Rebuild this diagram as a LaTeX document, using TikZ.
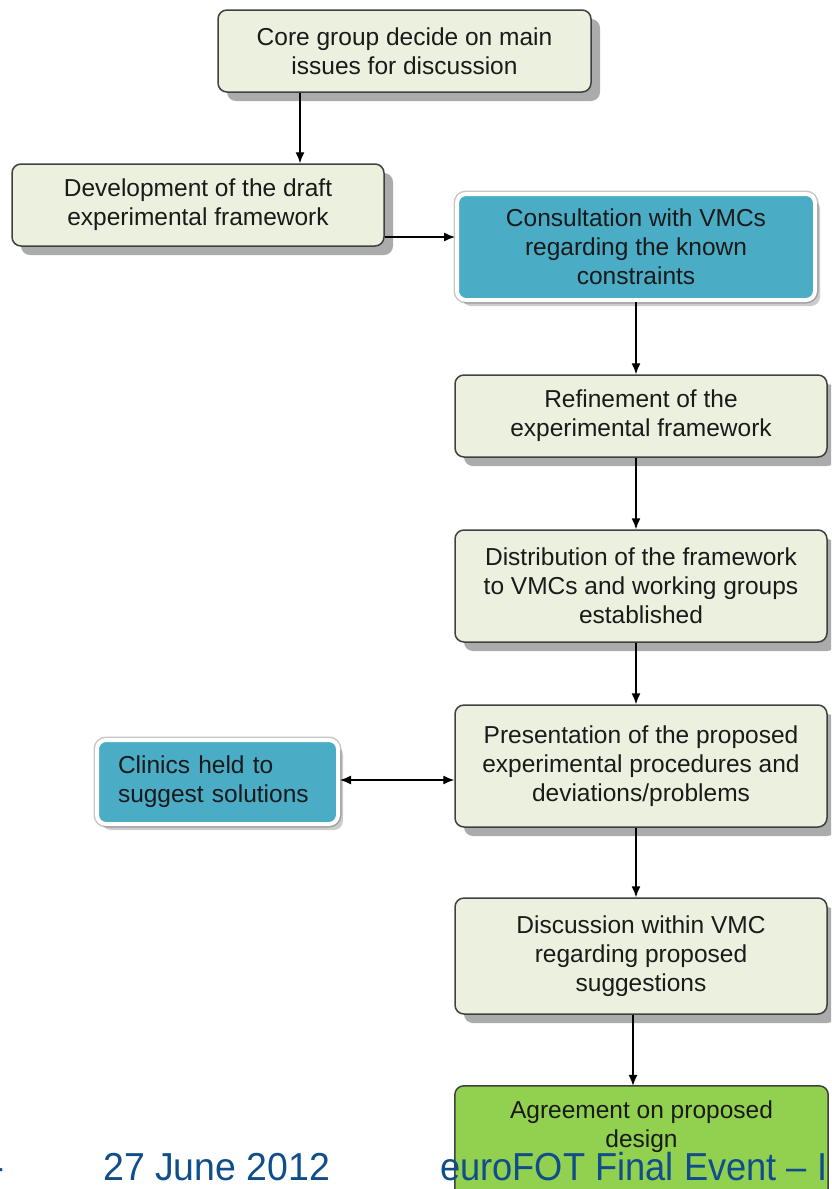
\documentclass[tikz,border=0pt]{standalone}
\usepackage{fontspec}
\setmainfont{Liberation Sans}
\usetikzlibrary{arrows.meta,shadows,backgrounds}
\definecolor{boxfill}{HTML}{EBF1DE}
\definecolor{boxline}{HTML}{404040}
\definecolor{blueF}{HTML}{4BACC6}
\definecolor{greenF}{HTML}{92D050}
\definecolor{footblue}{RGB}{16,78,139}
\definecolor{txt}{HTML}{1A1A1A}
\tikzset{
  pbox/.style={draw=boxline, line width=1.5pt, rounded corners=9pt, fill=boxfill,
    align=center, text=txt, font=\fontsize{24.5}{28.8}\selectfont, inner sep=0pt,
    drop shadow={shadow xshift=9pt, shadow yshift=-9pt, fill=black, opacity=0.33}},
  bbox/.style={draw=white, line width=4pt, rounded corners=9pt, fill=blueF,
    preaction={draw=black!22, line width=7pt},
    align=center, text=txt, font=\fontsize{24.5}{28.8}\selectfont, inner sep=0pt,
    drop shadow={shadow xshift=5pt, shadow yshift=-6pt, fill=black, opacity=0.2}},
  arr/.style={line width=1.3pt, draw=black, -{Latex[length=11pt,width=9pt]}},
  darr/.style={line width=1.3pt, draw=black, {Latex[length=11pt,width=9pt]}-{Latex[length=11pt,width=9pt]}},
  foot/.style={text=footblue, font=\fontsize{39}{39}\selectfont, inner sep=0pt}
}
\begin{document}
\begin{tikzpicture}[x=1pt,y=-1pt]
\useasboundingbox (0,0) rectangle (831,1189);
\clip (0,0) rectangle (831,1189);

\node[pbox, minimum width=373pt, minimum height=82pt] (core) at (404.5,51) {Core group decide on main\\issues for discussion};
\node[pbox, minimum width=372pt, minimum height=82pt] (dev) at (198,205) {Development of the draft\\experimental framework};
\node[bbox, minimum width=358pt, minimum height=106pt] (cons) at (636,247) {Consultation with VMCs\\regarding the known\\constraints};
\node[pbox, minimum width=372pt, minimum height=82pt] (ref) at (641,416) {Refinement of the\\experimental framework};
\node[pbox, minimum width=372pt, minimum height=112pt] (dist) at (641,586) {Distribution of the framework\\to VMCs and working groups\\established};
\node[pbox, minimum width=372pt, minimum height=122pt] (pres) at (641,766) {Presentation of the proposed\\experimental procedures and\\deviations/problems};
\node[bbox, minimum width=241pt, minimum height=84pt, align=left, text width=199pt] (clin) at (217.5,782) {Clinics held to\\suggest solutions};
\node[pbox, minimum width=372pt, minimum height=116pt] (disc) at (641,956) {Discussion within VMC\\regarding proposed\\suggestions};

\node[minimum width=373pt, minimum height=82pt, inner sep=0pt, align=center, text=txt,
      font=\fontsize{24.5}{28.8}\selectfont] (agree) at (641.5,1127) {Agreement on proposed\\design};
\begin{scope}[on background layer]
\draw[draw=boxline, line width=1.5pt, rounded corners=9pt, fill=greenF] (agree.north west) rectangle (agree.east |- 0,1210);
\end{scope}

\draw[arr] (core.south -| 300,0) -- (dev.north -| 300,0);
\draw[arr] (dev.east |- 0,237) -- (cons.west |- 0,237);
\draw[arr] (cons.south) -- (ref.north -| cons.south);
\draw[arr] (ref.south -| cons.south) -- (dist.north -| cons.south);
\draw[arr] (dist.south -| cons.south) -- (pres.north -| cons.south);
\draw[darr] (clin.east |- 0,780) -- (pres.west |- 0,780);
\draw[arr] (pres.south -| cons.south) -- (disc.north -| cons.south);
\draw[arr] (disc.south -| 633,0) -- (agree.north -| 633,0);

\node[foot, anchor=base east] (dash) at (5,1180) {-};
\node[foot, anchor=base west] (date) at (103,1180) {\scalebox{0.96}[1]{27 June 2012}};
\node[foot, anchor=base west] (event) at (440,1180) {\scalebox{0.93}[1]{euroFOT Final Event – I}};
\end{tikzpicture}
\end{document}
